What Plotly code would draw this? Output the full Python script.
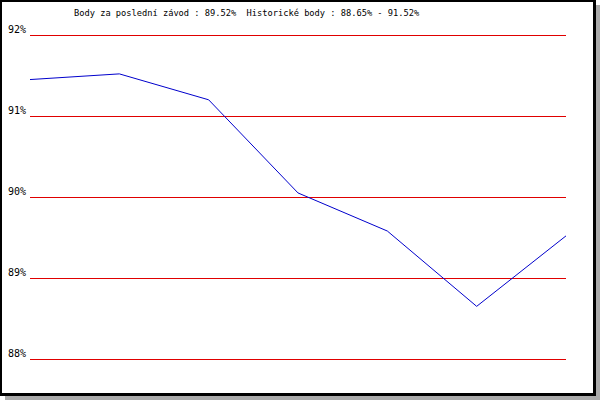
import plotly.graph_objects as go

races = [0, 1, 2, 3, 4, 5, 6]
points = [91.45, 91.52, 91.20, 90.05, 89.58, 88.65, 89.52]
tick_vals = [88, 89, 90, 91, 92]
tick_text = ["88%", "89%", "90%", "91%", "92%"]
title_text = "Body za poslední závod : 89.52%  Historické body : 88.65% - 91.52%"

W, H = 600, 400
L, R, T, B = 30, 566, 32, 362
PAD = 3 / 81.0

def px(x):
    return (x - L) / (R - L)

def py(y):
    return (B - y) / (B - T)

fig = go.Figure()
fig.add_trace(go.Scatter(x=races, y=points, mode="lines",
                         line=dict(color="#0000cc", width=1),
                         hoverinfo="skip", showlegend=False))

shapes = [
    dict(type="rect", xref="paper", yref="paper", layer="below",
         x0=px(5), x1=px(600), y0=py(5), y1=py(400),
         fillcolor="#aaaaaa", line=dict(width=0)),
    dict(type="rect", xref="paper", yref="paper", layer="below",
         x0=px(0), x1=px(596), y0=py(0), y1=py(396),
         fillcolor="#000000", line=dict(width=0)),
    dict(type="rect", xref="paper", yref="paper", layer="below",
         x0=px(2), x1=px(593), y0=py(2), y1=py(393),
         fillcolor="#ffffff", line=dict(width=0)),
]

fig.update_layout(
    template="none",
    width=W, height=H,
    margin=dict(l=L, r=W - R, t=T, b=H - B, pad=0, autoexpand=False),
    paper_bgcolor="#ffffff", plot_bgcolor="rgba(0,0,0,0)",
    shapes=shapes,
    showlegend=False,
    hovermode=False,
    xaxis=dict(range=[0, 6], showgrid=False, zeroline=False, automargin=False,
               showticklabels=False, showline=False, ticks="", fixedrange=True),
    yaxis=dict(range=[88 - PAD, 92 + PAD], tickvals=tick_vals, ticktext=tick_text,
               showgrid=True, gridcolor="#e00000", gridwidth=1, automargin=False,
               zeroline=False, showline=False, ticks="", fixedrange=True,
               ticklabelshift=-6, ticklabelstandoff=3,
               tickfont=dict(family="DejaVu Sans Mono", size=10, color="#000000")),
    annotations=[dict(text=title_text, xref="paper", yref="paper",
                      x=px(72), y=py(13), xanchor="left", yanchor="middle",
                      showarrow=False,
                      font=dict(family="DejaVu Sans Mono", size=8.7, color="#000000"))],
)

fig.write_html("out.html", config={"displayModeBar": False},
               post_script="document.body.style.margin='0';document.body.style.padding='0';")
